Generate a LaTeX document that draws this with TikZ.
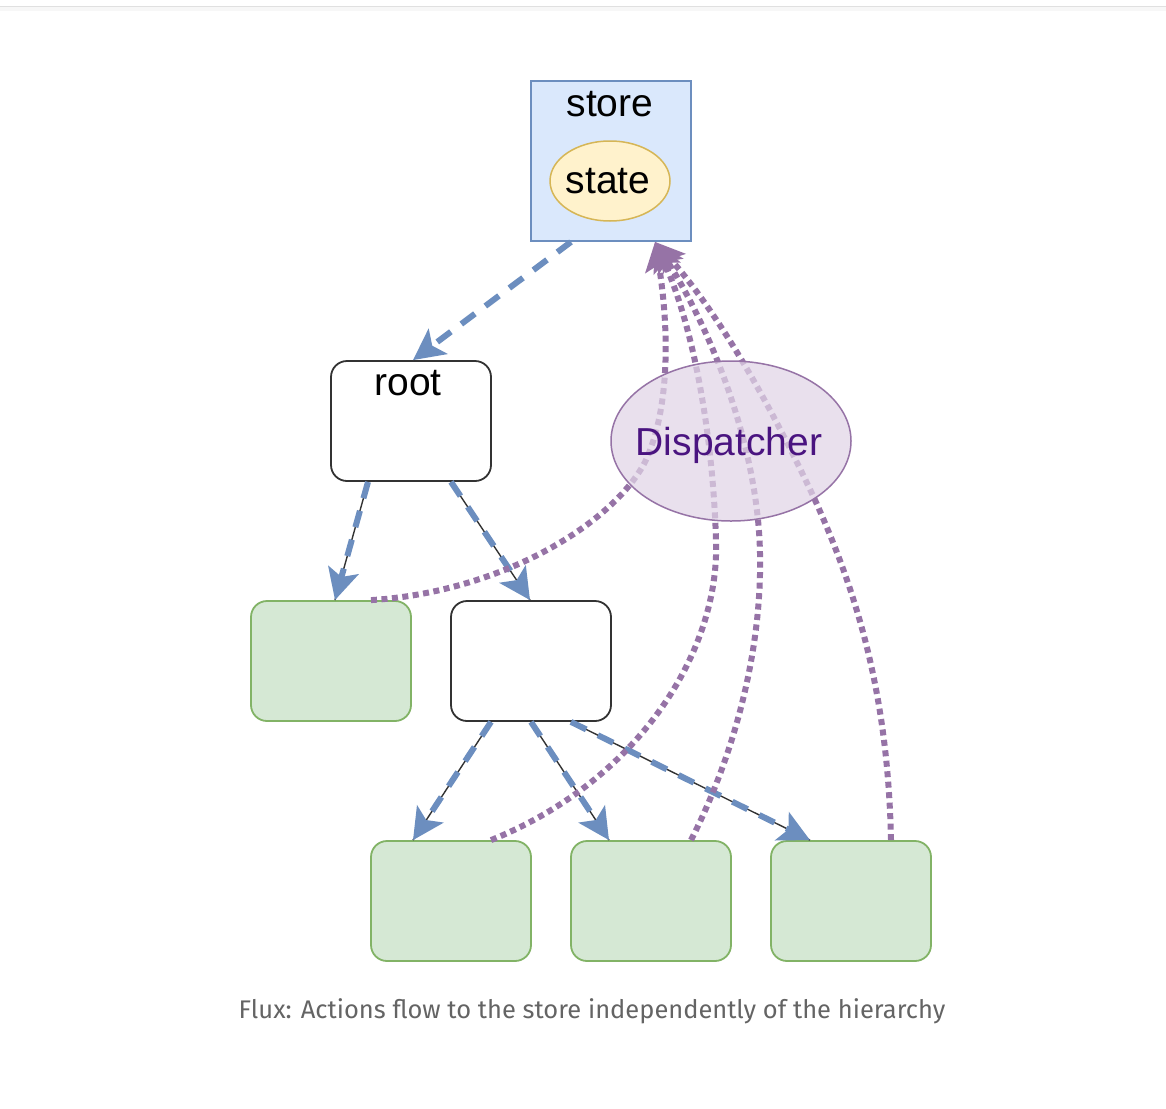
\documentclass[tikz,border=0pt]{standalone}
\usepackage{fontspec}
\setmainfont{Liberation Sans}
\newfontfamily\capfont{Fira Sans}
\usetikzlibrary{arrows.meta,shapes.geometric,calc}
\definecolor{storefill}{HTML}{DAE8FC}
\definecolor{storeline}{HTML}{6C8EBF}
\definecolor{statefill}{HTML}{FFF2CC}
\definecolor{stateline}{HTML}{D6B656}
\definecolor{greenfill}{HTML}{D5E8D4}
\definecolor{greenline}{HTML}{82B366}
\definecolor{dispfill}{HTML}{E1D5E7}
\definecolor{displine}{HTML}{9673A6}
\definecolor{disptext}{HTML}{4A1480}
\definecolor{flowblue}{HTML}{6C8EBF}
\definecolor{captext}{HTML}{646464}
\begin{document}
\begin{tikzpicture}[x=1pt,y=-1pt,
  bigtext/.style={font=\fontsize{39}{45}\selectfont, anchor=base, inner sep=0pt},
  whitebox/.style={rectangle, rounded corners=16pt, minimum width=160pt, minimum height=120pt, line width=1.8pt, inner sep=0pt, draw=black!80, fill=white},
  greenbox/.style={rectangle, rounded corners=16pt, minimum width=160pt, minimum height=120pt, line width=1.8pt, inner sep=0pt, draw=greenline, fill=greenfill},
  flow/.style={draw=flowblue, line width=6pt, dash pattern=on 17pt off 13pt, -{Stealth[length=31pt,width=31pt,inset=7pt]}},
  thinedge/.style={draw=black!80, line width=1.4pt},
  pflow/.style={draw=displine, line width=6pt, dash pattern=on 6pt off 4.5pt, -{Stealth[length=29pt,width=29pt,inset=6pt]}}
]
\useasboundingbox (0,0) rectangle (1166,1108);
\fill[white] (0,0) rectangle (1166,1108);
\fill[black!3] (0,7) rectangle (1166,11);
\draw[black!12, line width=1.5pt] (0,6.5) -- (1166,6.5);

% nodes
\node[rectangle, draw=storeline, fill=storefill, line width=1.8pt, minimum width=160pt, minimum height=160pt, inner sep=0pt] (store) at (611,161) {};
\node[ellipse, draw=stateline, fill=statefill, line width=1.5pt, minimum width=120pt, minimum height=80pt, inner sep=0pt] (state) at (610,181) {};
\node[bigtext] (storelbl) at (610,116) {store};
\node[bigtext] (statelbl) at (608,193) {state};

\node[whitebox] (root) at (411,421) {};
\node[bigtext] (rootlbl) at (408,395) {root};
\node[greenbox] (lg) at (331,661) {};
\node[whitebox] (wb) at (531,661) {};
\node[greenbox] (b1) at (451,901) {};
\node[greenbox] (b2) at (651,901) {};
\node[greenbox] (b3) at (851,901) {};

% blue flows
\draw[flow] ([xshift=-40pt]store.south) -- ([xshift=2pt]root.north);

\draw[thinedge] ([xshift=-43pt]root.south) -- ([xshift=4pt]lg.north);
\draw[flow] ([xshift=-43pt]root.south) -- ([xshift=4pt]lg.north);
\draw[thinedge] ([xshift=40pt]root.south) -- ([xshift=-1pt]wb.north);
\draw[flow] ([xshift=40pt]root.south) -- ([xshift=-1pt]wb.north);

\draw[thinedge] ([xshift=-40pt]wb.south) -- ([xshift=-38pt]b1.north);
\draw[flow] ([xshift=-40pt]wb.south) -- ([xshift=-38pt]b1.north);
\draw[thinedge] (wb.south) -- ([xshift=-42pt]b2.north);
\draw[flow] (wb.south) -- ([xshift=-42pt]b2.north);
\draw[thinedge] ([xshift=40pt]wb.south) -- ([xshift=-41pt]b3.north);
\draw[flow] ([xshift=40pt]wb.south) -- ([xshift=-41pt]b3.north);

% purple dotted flows to store
\coordinate (tipA) at ([xshift=44pt]store.south);
\draw[pflow] ([xshift=40pt]lg.north) .. controls (500,592) and (612,525) .. (645,462) .. controls (672,405) and (668,320) .. (tipA);
\draw[pflow] ([xshift=40pt]b1.north) .. controls (640,780) and (720,650) .. (716,540) .. controls (713,440) and (695,330) .. (tipA);
\draw[pflow] ([xshift=40pt]b2.north) .. controls (742,740) and (768,620) .. (758,520) .. controls (748,420) and (705,320) .. (tipA);
\draw[pflow] ([xshift=40pt]b3.north) .. controls (888,700) and (860,600) .. (815,500) .. controls (780,425) and (725,320) .. (tipA);

% dispatcher
\node[ellipse, draw=displine, fill=dispfill, fill opacity=0.72, draw opacity=1, line width=1.5pt, minimum width=240pt, minimum height=160pt, inner sep=0pt] (disp) at (731,441) {};
\node[bigtext, text=disptext] (displbl) at (729,455) {Dispatcher};

% caption
\node[font=\capfont\fontsize{25.5}{30}\selectfont, text=captext, anchor=base, inner sep=0pt] (caption) at (592,1018) {Flux: Actions flow to the store independently of the hierarchy};
\end{tikzpicture}
\end{document}
